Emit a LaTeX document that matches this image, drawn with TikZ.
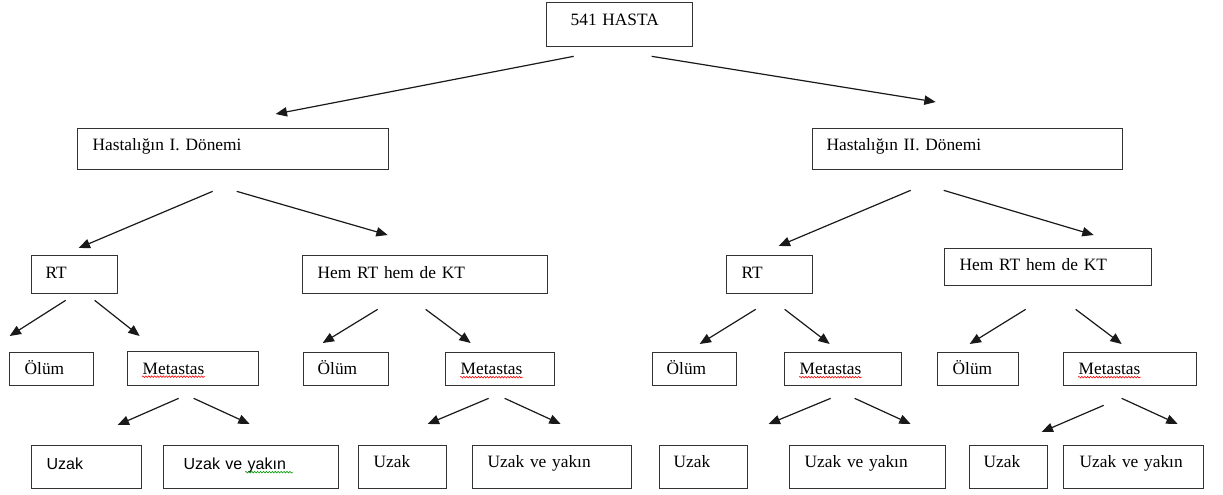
\documentclass[tikz,border=0pt]{standalone}
\usepackage{fontspec}
\setmainfont{Liberation Serif}
\newfontfamily\arialfont{Liberation Sans}
\usetikzlibrary{arrows.meta,calc}
\usetikzlibrary{decorations.pathmorphing}

\tikzset{
  kutu/.style={draw=black!80, line width=1pt, anchor=north west, align=left,
    inner xsep=11.25pt, inner ysep=0pt, text height=8.6pt,
    font=\fontsize{13}{15}\selectfont},
  kok/.style={kutu, minimum height=33pt, text depth=7.5pt},
  donem/.style={kutu, minimum height=30.75pt, text depth=6pt},
  tedavi/.style={kutu, minimum height=28.5pt, text depth=3pt},
  sonuc/.style={kutu, minimum height=24.75pt, text depth=0pt},
  yayilim/.style={kutu, minimum height=32.25pt, text depth=8pt},
  yayilimsans/.style={yayilim, text depth=4.5pt, font=\arialfont\fontsize{12}{14}\selectfont},
  ok/.style={draw=black!90, line width=0.9pt, -{Triangle[length=8.5pt,width=7pt]}},
  imla/.style={line width=0.45pt, decorate,
    decoration={snake, segment length=2.2pt, amplitude=0.6pt}}
}

\begin{document}
\begin{tikzpicture}[x=0.75pt,y=-0.75pt]
  \useasboundingbox (0,0) rectangle (1223,495);

  % kok ve donemler
  \node[kok, inner xsep=18pt, text width=73.5pt] (hasta) at (546,2) {541 HASTA};
  \node[donem, text width=210.75pt] (donem1) at (77,128) {Hastalığın I. Dönemi};
  \node[donem, inner xsep=10.5pt, text width=211.5pt] (donem2) at (812,128) {Hastalığın II. Dönemi};

  % tedavi
  \node[tedavi, inner xsep=10.5pt, text width=43.5pt] (rt1) at (31,255) {RT};
  \node[tedavi, text width=161.25pt] (hem1) at (302,255) {Hem RT hem de KT};
  \node[tedavi, text width=42pt] (rt2) at (726,255) {RT};
  \node[tedavi, minimum height=27.75pt, text width=132.75pt] (hem2) at (944,248) {Hem RT hem de KT};

  % sonuc
  \node[sonuc, text width=40.5pt] (olum1) at (9,352) {Ölüm};
  \node[sonuc, minimum height=25.5pt, text width=75.75pt] (met1) at (127,351) {Metastas};
  \node[sonuc, inner xsep=10.5pt, text width=42.75pt] (olum2) at (303,352) {Ölüm};
  \node[sonuc, text width=59.25pt] (met2) at (445,352) {Metastas};
  \node[sonuc, inner xsep=10.5pt, text width=42pt] (olum3) at (652,352) {Ölüm};
  \node[sonuc, text width=65.25pt] (met3) at (784,352) {Metastas};
  \node[sonuc, text width=38.25pt] (olum4) at (937,352) {Ölüm};
  \node[sonuc, text width=77.25pt] (met4) at (1063,352) {Metastas};

  % uzak / yakin
  \node[yayilimsans, text width=60pt] (uzak1) at (31,445) {Uzak};
  \node[yayilimsans, inner xsep=15pt, text width=101.25pt] (uy1) at (163,445) {Uzak ve yakın};
  \node[yayilim, text width=43.5pt] (uzak2) at (358,445) {Uzak};
  \node[yayilim, text width=96.75pt] (uy2) at (472,445) {Uzak ve yakın};
  \node[yayilim, inner xsep=10.5pt, text width=45pt] (uzak3) at (659,445) {Uzak};
  \node[yayilim, text width=94.5pt] (uy3) at (789,445) {Uzak ve yakın};
  \node[yayilim, inner xsep=10.5pt, text width=37.5pt] (uzak4) at (969,445) {Uzak};
  \node[yayilim, inner xsep=12pt, text width=81pt] (uy4) at (1063,445) {Uzak ve yakın};

  \draw[ok] ($(hasta.south)+(-46,9)$) -- ($(donem1.north)+(42.5,-14)$);
  \draw[ok] ($(hasta.south)+(32,9)$) -- ($(donem2.north)+(-32,-26)$);

  \draw[ok] ($(donem1.south)+(-20.5,21)$) -- ($(rt1.north)+(4,-7)$);
  \draw[ok] ($(donem1.south)+(3.5,21)$) -- ($(hem1.north)+(-37.5,-20)$);
  \draw[ok] ($(donem2.south)+(-57,20)$) -- ($(rt2.north)+(9,-9)$);
  \draw[ok] ($(donem2.south)+(-24,20)$) -- ($(hem2.north)+(45.5,-13)$);

  \draw[ok] ($(rt1.south)+(-9,6)$) -- ($(olum1.north)+(-42,-16)$);
  \draw[ok] ($(rt1.south)+(20,6)$) -- ($(met1.north)+(-53.5,-15)$);
  \draw[ok] ($(hem1.south)+(-47.5,15)$) -- ($(olum2.north)+(-23.5,-9)$);
  \draw[ok] ($(hem1.south)+(0.5,15)$) -- ($(met2.north)+(-29.5,-9)$);
  \draw[ok] ($(rt2.south)+(-14,15)$) -- ($(olum3.north)+(5,-8)$);
  \draw[ok] ($(rt2.south)+(15,15)$) -- ($(met3.north)+(-13.5,-8)$);
  \draw[ok] ($(hem2.south)+(-22.5,23)$) -- ($(olum4.north)+(-8.5,-8)$);
  \draw[ok] ($(hem2.south)+(27.5,23)$) -- ($(met4.north)+(-8.5,-8)$);

  \draw[ok] ($(met1.south)+(-14.5,12)$) -- ($(uzak1.north)+(31,-20)$);
  \draw[ok] ($(met1.south)+(0.5,12)$) -- ($(uy1.north)+(-1.5,-21)$);
  \draw[ok] ($(met2.south)+(-11.5,12)$) -- ($(uzak2.north)+(25,-21)$);
  \draw[ok] ($(met2.south)+(4.5,12)$) -- ($(uy2.north)+(8.5,-21)$);
  \draw[ok] ($(met3.south)+(-12.5,12)$) -- ($(uzak3.north)+(65,-21)$);
  \draw[ok] ($(met3.south)+(11.5,12)$) -- ($(uy3.north)+(43,-21)$);
  \draw[ok] ($(met4.south)+(-26.5,19)$) -- ($(uzak4.north)+(33,-13)$);
  \draw[ok] ($(met4.south)+(-8.5,12)$) -- ($(uy4.north)+(44,-21)$);

  % imla isaretleri
  \draw[imla, red] ($(met1.west)+(15,8)$) -- ++(63,0);
  \draw[imla, red] ($(met2.west)+(15,8)$) -- ++(63,0);
  \draw[imla, red] ($(met3.west)+(15,8)$) -- ++(63,0);
  \draw[imla, red] ($(met4.west)+(15,8)$) -- ++(63,0);
  \draw[imla, green!60!black] ($(uy1.west)+(82,5)$) -- ++(48,0);
\end{tikzpicture}
\end{document}
